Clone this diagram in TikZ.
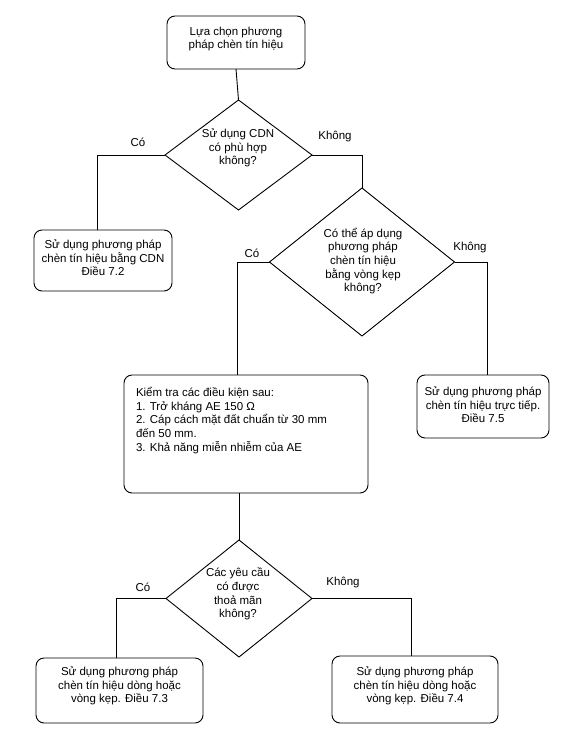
\documentclass[tikz,border=0pt]{standalone}
\usepackage{fontspec}
\setmainfont{Liberation Sans}
\usetikzlibrary{shapes.geometric}
\begin{document}
\begin{tikzpicture}[x=1pt,y=-1pt,
  every node/.style={inner sep=0pt, outer sep=0pt},
  txt/.style={align=center, font=\fontsize{11.5}{13.6}\selectfont},
  ltxt/.style={align=left, font=\fontsize{11.5}{13.8}\selectfont},
  box/.style={draw, line width=0.9pt, rounded corners=8pt},
  dia/.style={draw, line width=0.9pt, diamond},
  conn/.style={line width=0.9pt},
  lbl/.style={font=\fontsize{11.5}{13}\selectfont}]
\useasboundingbox (0,0) rectangle (576,743);

% boxes
\node[box, minimum width=138pt, minimum height=53pt] (b1) at (236,42.5) {};
\node[txt] (b1t) at (236,39) {Lựa chọn phương\\pháp chèn tín hiệu};

\node[box, minimum width=138pt, minimum height=61pt] (b2) at (103,260.5) {};
\node[txt] (b2t) at (103,258) {Sử dụng phương pháp\\chèn tín hiệu bằng CDN\\Điều 7.2};

\node[box, minimum width=244pt, minimum height=118pt] (b3) at (246,434) {};
\node[ltxt, anchor=west] (b3t) at (136,420.5) {Kiểm tra các điều kiện sau:\\1. Trở kháng AE 150 Ω\\2. Cáp cách mặt đất chuẩn từ 30 mm\\đến 50 mm.\\3. Khả năng miễn nhiễm của AE};

\node[box, minimum width=132pt, minimum height=63pt] (b4) at (483,406.5) {};
\node[txt] (b4t) at (483,405) {Sử dụng phương pháp\\chèn tín hiệu trực tiếp.\\Điều 7.5};

\node[box, minimum width=167pt, minimum height=65pt] (b5) at (119.5,690.5) {};
\node[txt] (b5t) at (119.5,686) {Sử dụng phương pháp\\chèn tín hiệu dòng hoặc\\vòng kẹp. Điều 7.3};

\node[box, minimum width=166pt, minimum height=67pt] (b6) at (415,689.5) {};
\node[txt] (b6t) at (415,686) {Sử dụng phương pháp\\chèn tín hiệu dòng hoặc\\vòng kẹp. Điều 7.4};

% diamonds
\node[dia, minimum width=147pt, minimum height=110pt] (d1) at (238.5,155) {};
\node[txt] (d1t) at (238,148) {Sử dụng CDN\\có phù hợp\\không?};

\node[dia, minimum width=185pt, minimum height=148pt] (d2) at (362,262) {};
\node[txt] (d2t) at (363,261) {Có thể áp dụng\\phương pháp\\chèn tín hiệu\\bằng vòng kẹp\\không?};

\node[dia, minimum width=146pt, minimum height=117pt] (d3) at (239,598.5) {};
\node[txt] (d3t) at (238,594) {Các yêu cầu\\có được\\thoả mãn\\không?};

% labels
\node[lbl] (l1) at (138,142) {Có};
\node[lbl] (l2) at (335,137) {Không};
\node[lbl] (l3) at (252,253) {Có};
\node[lbl] (l4) at (470,248) {Không};
\node[lbl] (l5) at (143,587) {Có};
\node[lbl] (l6) at (343,583) {Không};

% connectors
\draw[conn] (b1.south) -- (d1.north);
\draw[conn] (d1.west) -| ([xshift=-6pt]b2.north);
\draw[conn] (d1.east) -| (d2.north);
\draw[conn] (d2.west) -| ([xshift=-9pt]b3.north);
\draw[conn] (d2.east) -| ([xshift=4pt]b4.north);
\draw[conn] (d3.north |- b3.south) -- (d3.north);
\draw[conn] (d3.west) -| ([xshift=-3pt]b5.north);
\draw[conn] (d3.east) -| ([xshift=-4pt]b6.north);
\end{tikzpicture}
\end{document}
